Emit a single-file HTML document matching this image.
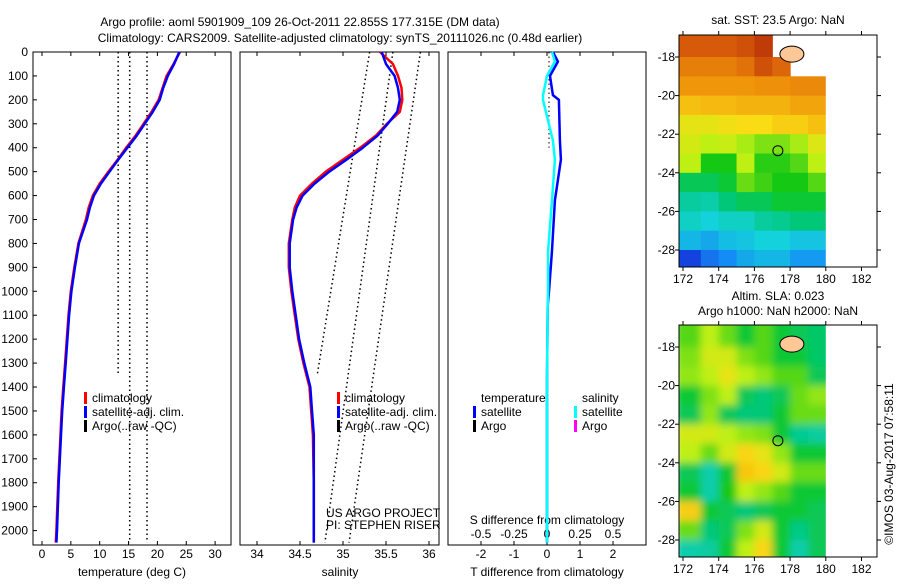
<!DOCTYPE html>
<html><head><meta charset="utf-8"><style>
body{margin:0;background:#fff;}
svg text{font-family:"Liberation Sans",sans-serif;font-size:12px;fill:#000;}
</style></head><body>
<svg id="c" width="900" height="580" xmlns="http://www.w3.org/2000/svg">
<rect width="900" height="580" fill="#fff"/>
<text x="300" y="26" text-anchor="middle">Argo profile: aoml 5901909_109 26-Oct-2011 22.855S 177.315E (DM data)</text>
<text x="340" y="42" text-anchor="middle">Climatology: CARS2009. Satellite-adjusted climatology: synTS_20111026.nc (0.48d earlier)</text>
<text x="778" y="24" text-anchor="middle">sat. SST: 23.5 Argo: NaN</text>
<text x="778" y="300" text-anchor="middle">Altim. SLA: 0.023</text>
<text x="778" y="315" text-anchor="middle">Argo h1000: NaN h2000: NaN</text>
<text transform="translate(893,464) rotate(-90)" text-anchor="middle">©IMOS 03-Aug-2017 07:58:11</text>
</svg>
<script>
// ---------- profile data ----------
const depths   = [0,50,100,150,200,250,300,350,400,450,500,550,600,650,700,800,900,1000,1100,1200,1300,1400,1500,1600,1800,2000,2050];
const tempClim = [23.9,22.8,21.6,20.9,20.2,19.0,17.6,16.2,14.6,13.1,11.5,10.0,8.8,8.1,7.6,6.3,5.6,5.0,4.6,4.3,4.0,3.7,3.4,3.2,2.8,2.5,2.4];
const tempSat  = [23.8,22.9,21.8,21.0,20.4,19.2,17.8,16.4,14.8,13.2,11.7,10.2,9.0,8.3,7.8,6.4,5.7,5.1,4.7,4.4,4.1,3.8,3.5,3.3,2.9,2.6,2.5];
const salClim  = [35.43,35.58,35.64,35.68,35.69,35.66,35.51,35.38,35.2,35.0,34.8,34.64,34.5,34.44,34.41,34.37,34.37,34.4,34.44,34.48,34.54,34.61,34.63,34.65,34.66,34.66,34.66];
const salSat   = [35.45,35.5,35.6,35.64,35.66,35.63,35.52,35.4,35.23,35.04,34.84,34.67,34.53,34.46,34.42,34.38,34.38,34.41,34.45,34.49,34.55,34.62,34.64,34.66,34.66,34.66,34.66];
const diffDepths = [0,40,100,180,200,370,450,620,830,1000,1060,1370,1600,2050];
const tDiffSat = [0.18,0.33,0.09,0.18,0.36,0.39,0.42,0.24,0.15,0.06,0.02,0.0,0.0,0.0];
const sDiffSat = [0.038,0.06,0.0,-0.03,-0.03,0.045,0.06,0.038,0.008,0.008,0.005,0.0,0.0,0.0];
const tEnvTop = [13.2,15.2,18.2];
const tEnvBot = [13.2,15.2,18.2];
const tEnvEnd = [1350,2050,2050];
const sEnvTop = [35.31,35.58,35.9];
const sEnvBot = [34.7,34.79,35.07];
const sEnvEnd = [1350,2050,2050];
const depthTicks = [0,100,200,300,400,500,600,700,800,900,1000,1100,1200,1300,1400,1500,1600,1700,1800,1900,2000];
const tTicks = [0,5,10,15,20,25,30];
const sTicks = [34,34.5,35,35.5,36];
const tdTicks = [-2,-1,0,1,2];
const sdTicks = [-0.5,-0.25,0,0.25,0.5];
const sdTickLabels = ["-0.5","-0.25","0","0.25","0.5"];
// ---------- map data (colormap index 0..1, null = no data) ----------
const mapLons = [172,173,174,175,176,177,178,179];
const mapLats = [-17,-18,-19,-20,-21,-22,-23,-24,-25,-26,-27,-28];
const sstGrid = [
 [0.86,0.86,0.86,0.88,0.92,null,null,null],
 [0.8,0.8,0.8,0.82,0.88,0.84,null,null],
 [0.76,0.76,0.76,0.76,0.77,0.77,0.78,0.78],
 [0.7,0.71,0.71,0.72,0.72,0.72,0.74,0.74],
 [0.64,0.64,0.65,0.66,0.66,0.68,0.68,0.7],
 [0.62,0.6,0.61,0.59,0.57,0.57,0.59,0.63],
 [0.6,0.52,0.52,0.6,0.53,0.53,0.55,0.6],
 [0.48,0.48,0.5,0.56,0.54,0.52,0.52,0.55],
 [0.43,0.42,0.46,0.48,0.48,0.5,0.5,0.5],
 [0.4,0.38,0.4,0.4,0.43,0.44,0.46,0.46],
 [0.34,0.32,0.35,0.36,0.38,0.38,0.36,0.36],
 [0.16,0.24,0.28,0.32,0.34,0.34,0.3,0.3]];
const slaGrid = [
 [0.55,0.6,0.56,0.5,0.55,0.5,0.48,0.47],
 [0.57,0.62,0.62,0.57,0.55,0.5,0.5,0.47],
 [0.58,0.6,0.64,0.6,0.58,0.55,0.55,0.48],
 [0.5,0.57,0.6,0.48,0.46,0.48,0.56,0.58],
 [0.48,0.58,0.48,0.46,0.46,0.5,0.56,0.56],
 [0.62,0.62,0.6,0.58,0.57,0.5,0.44,0.43],
 [0.6,0.56,0.62,0.67,0.64,0.58,0.5,0.5],
 [0.48,0.42,0.5,0.69,0.67,0.62,0.56,0.56],
 [0.5,0.42,0.52,0.6,0.58,0.55,0.5,0.5],
 [0.68,0.5,0.48,0.46,0.48,0.5,0.5,0.48],
 [0.56,0.46,0.48,0.57,0.62,0.5,0.45,0.48],
 [0.42,0.43,0.5,0.6,0.67,0.5,0.42,0.48]];
const argoLon = 177.315, argoLat = -22.855;

const NS="http://www.w3.org/2000/svg";
const svg=document.getElementById('c');
function el(tag,attrs,parent){const e=document.createElementNS(NS,tag);for(const k in attrs)e.setAttribute(k,attrs[k]);(parent||svg).appendChild(e);return e;}
function txt(x,y,s,anchor,parent){const t=el('text',{x:x,y:y,'text-anchor':anchor||'start'},parent);t.textContent=s;return t;}

const PT=52, PB=545;
const yD = d => PT + d*0.2393;
const xT = t => 42 + t*5.77;
const xS = s => 257 + (s-34)*86;
const xTD = v => 547 + v*33;
const xSD = v => 547 + v*132;

const panels=[[33,231,'temperature-panel'],[240,439,'salinity-panel'],[448,646,'difference-panel']];
panels.forEach(p=>{
  const r=el('rect',{x:p[0],y:PT,width:p[1]-p[0],height:PB-PT,fill:'none',stroke:'#000','stroke-width':1});
  
  
});
depthTicks.forEach(d=>{
  const t=txt(28,yD(d)+4,String(d),'end');
  
  
  el('line',{x1:33,x2:37,y1:yD(d),y2:yD(d),stroke:'#000'});
});
function xaxis(ticks,labels,fx,ly,top){
  ticks.forEach((v,i)=>{
    const x=fx(v);
    el('line',{x1:x,x2:x,y1:PB,y2:PB-4,stroke:'#000'});
    if(top) el('line',{x1:x,x2:x,y1:PT,y2:PT+4,stroke:'#000'});
    const t=txt(x,ly,labels[i],'middle');
    
    
  });
}
xaxis(tTicks,tTicks.map(String),xT,558,true);
xaxis(sTicks,sTicks.map(String),xS,558,true);
xaxis(tdTicks,tdTicks.map(String),xTD,558,true);
sdTicks.forEach((v,i)=>{
  const t=txt(xSD(v),538,sdTickLabels[i],'middle');
  
  
  el('line',{x1:xSD(v),x2:xSD(v),y1:PB,y2:PB-4,stroke:'#000'});
});
[[132,'temperature (deg C)','x-axis-title-temperature'],[340,'salinity','x-axis-title-salinity'],[547,'T difference from climatology','x-axis-title-t-diff']].forEach(a=>{
  const t=txt(a[0],576,a[1],'middle');
  
  
});
{const t=txt(547,524,'S difference from climatology','middle');

}

for(let i=0;i<tEnvTop.length;i++){
  const l=el('line',{x1:xT(tEnvTop[i]),y1:yD(0),x2:xT(tEnvBot[i]),y2:yD(tEnvEnd[i]),stroke:'#000','stroke-width':1.5,'stroke-dasharray':'1.5 3'});
  
  
}
for(let i=0;i<sEnvTop.length;i++){
  const l=el('line',{x1:xS(sEnvTop[i]),y1:yD(0),x2:xS(sEnvBot[i]),y2:yD(sEnvEnd[i]),stroke:'#000','stroke-width':1.5,'stroke-dasharray':'1.5 3'});
  
  
}
{const l=el('line',{x1:xTD(0.06),y1:PT,x2:xTD(0.06),y2:yD(400),stroke:'#000','stroke-width':1,'stroke-dasharray':'1.5 3'});

}

function poly(xs,ds,fx,color,w,name){
  const pts=xs.map((v,i)=>fx(v).toFixed(1)+','+yD(ds[i]).toFixed(1)).join(' ');
  const p=el('polyline',{points:pts,fill:'none',stroke:color,'stroke-width':w,'stroke-linejoin':'round'});
  
  
}
poly(tempClim,depths,xT,'#f00',2.5,'temperature-climatology-line');
poly(tempSat,depths,xT,'#00f',2.5,'temperature-satellite-line');
poly(salClim,depths,xS,'#f00',2.5,'salinity-climatology-line');
poly(salSat,depths,xS,'#00f',2.5,'salinity-satellite-line');
poly(tDiffSat,diffDepths,xTD,'#00f',2.5,'t-diff-satellite-line');
poly(sDiffSat,diffDepths,xSD,'#0ff',2.5,'s-diff-satellite-line');

function legend(x,y,color,label){
  el('rect',{x:x,y:y-10,width:3,height:12,fill:color});
  const t=txt(x+8,y,label);
  
  
}
[[84],[337]].forEach(a=>{
  legend(a[0],402,'#f00','climatology');
  legend(a[0],416,'#00f','satellite-adj. clim.');
  legend(a[0],430,'#000','Argo(..raw -QC)');
});
{const t=txt(481,402,'temperature');}
{const t=txt(582,402,'salinity');}
legend(473,416,'#00f','satellite');
legend(473,430,'#000','Argo');
legend(574,416,'#0ff','satellite');
legend(574,430,'#f0f','Argo');
{const t=txt(326,517,'US ARGO PROJECT');}
{const t=txt(326,529,'PI: STEPHEN RISER');}

// ---------- maps ----------
const stops=[[0,[10,20,140]],[0.15,[20,60,220]],[0.28,[20,140,245]],[0.38,[20,210,220]],[0.46,[0,200,120]],[0.52,[20,200,20]],[0.6,[190,240,20]],[0.66,[250,220,20]],[0.76,[240,150,10]],[0.86,[215,90,10]],[1,[160,20,5]]];
function cmap(v){
  for(let i=1;i<stops.length;i++){if(v<=stops[i][0]){const a=stops[i-1],b=stops[i];const f=(v-a[0])/(b[0]-a[0]);return 'rgb('+a[1].map((c,k)=>Math.round(c+(b[1][k]-c)*f)).join(',')+')';}}
  return 'rgb(160,20,5)';
}
const MX0=679,MX1=877;
const xL = lon => 683 + (lon-172)*17.85;
function drawMap(top,bottom,y18,grid,name,blur){
  const yL = lat => y18 + (-18-lat)*19.3;
  const id='clip'+name;
  const cp=el('clipPath',{id:id});
  el('rect',{x:MX0,y:top,width:xL(180)-MX0,height:bottom-top},cp);
  const g=el('g',{'clip-path':'url(#'+id+')'});
  
  
  const inner=el('g',blur?{filter:'url(#blur)'}:{},g);
  grid.forEach((row,r)=>row.forEach((v,c)=>{
    if(v===null) return;
    const x=xL(mapLons[c]), y=yL(mapLats[r]);
    const cell=el('rect',{x:x-(c===0?8:0),y:y-(r===0?12:0),width:xL(mapLons[c]+1)-x+0.6+(c===0?8:0)+(c===row.length-1?8:0),height:yL(mapLats[r]-1)-y+0.6+(r===0?12:0)+(r===grid.length-1?8:0),fill:cmap(v)},inner);
    
    
  }));
  const isl=el('ellipse',{cx:xL(178.1),cy:yL(-17.85),rx:12,ry:8,fill:'#fdc896',stroke:'#000','stroke-width':1});
  
  
  el('rect',{x:MX0,y:top,width:MX1-MX0,height:bottom-top,fill:'none',stroke:'#000'});
  [172,174,176,178,180,182].forEach(lon=>{
    el('line',{x1:xL(lon),x2:xL(lon),y1:top,y2:top-4,stroke:'#000'});
    el('line',{x1:xL(lon),x2:xL(lon),y1:bottom,y2:bottom+4,stroke:'#000'});
    const t=txt(xL(lon),bottom+16,String(lon),'middle');
    
    
  });
  [-18,-20,-22,-24,-26,-28].forEach(lat=>{
    el('line',{x1:MX0,x2:MX0-4,y1:yL(lat),y2:yL(lat),stroke:'#000'});
    el('line',{x1:MX1,x2:MX1+4,y1:yL(lat),y2:yL(lat),stroke:'#000'});
    const t=txt(MX0-4,yL(lat)+4,String(lat),'end');
    
    
  });
  const m=el('circle',{cx:xL(argoLon),cy:yL(argoLat),r:5,fill:'none',stroke:'#000'});
  
  
}
const defs=el('defs',{});
const f=el('filter',{id:'blur',x:'-10%',y:'-10%',width:'120%',height:'120%'},defs);
el('feGaussianBlur',{stdDeviation:4},f);
drawMap(35,267,57,sstGrid,'sst-map',false);
drawMap(325,557,347,slaGrid,'sla-map',true);
</script>
</body></html>
